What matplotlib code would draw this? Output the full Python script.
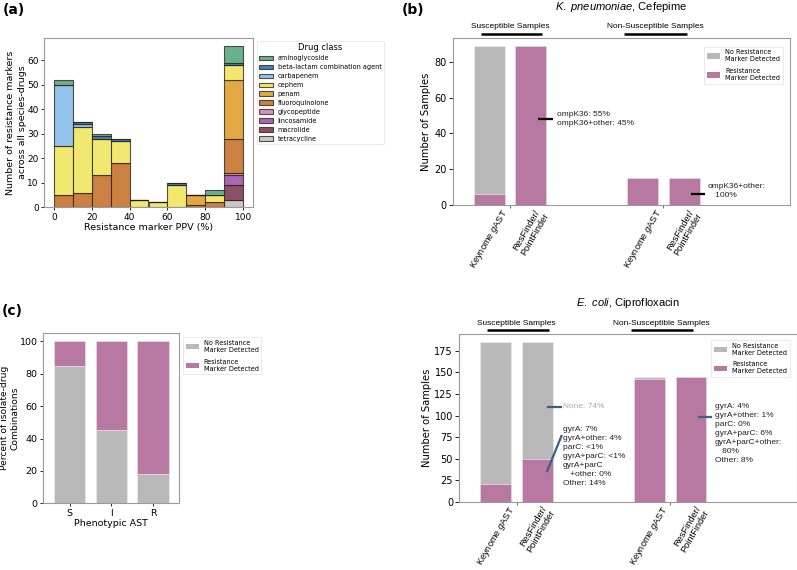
import matplotlib
matplotlib.use('Agg')
import matplotlib.pyplot as plt
import matplotlib.transforms as mtransforms
from matplotlib.patches import Patch

plt.rcParams['font.family'] = ['DejaVu Sans']
plt.rcParams['mathtext.fontset'] = 'custom'
plt.rcParams['mathtext.rm'] = 'Liberation Sans'
plt.rcParams['mathtext.it'] = 'Liberation Sans:italic'

ARIAL = 'Liberation Sans'

# ---------------- data ----------------
# panel (a): resistance markers per PPV bin (stacked by drug class)
ppv_bin_edges = [0, 10, 20, 30, 40, 50, 60, 70, 80, 90, 100]
ppv_bin_centers = [5, 15, 25, 35, 45, 55, 65, 75, 85, 95]
tetracycline    = [0, 0, 0, 0, 0, 0, 0, 0, 0, 3]
macrolide       = [0, 0, 0, 0, 0, 0, 0, 0, 0, 6]
lincosamide     = [0, 0, 0, 0, 0, 0, 0, 0, 0, 4]
glycopeptide    = [0, 0, 0, 0, 0, 0, 0, 0, 0, 1]
fluoroquinolone = [5, 6, 13, 18, 0, 0, 0, 1, 2, 14]
penam           = [0, 0, 0, 0, 0, 0, 0, 4, 0, 24]
cephem          = [20, 27, 15, 9, 3, 2, 9, 0, 3, 6]
carbapenem      = [25, 1, 0, 0, 0, 0, 0, 0, 0, 0]
beta_lactam     = [0, 1, 1, 1, 0, 0, 1, 0, 0, 1]
aminoglycoside  = [2, 0, 1, 0, 0, 0, 0, 0, 2, 7]
drug_classes = ['tetracycline', 'macrolide', 'lincosamide', 'glycopeptide',
                'fluoroquinolone', 'penam', 'cephem', 'carbapenem',
                'beta-lactam combination agent', 'aminoglycoside']
class_colors = ['#c9c9c9', '#8c5066', '#a866b4', '#d590c2', '#cc8142',
                '#e1a843', '#f1e872', '#93c3ea', '#4a80bf', '#67b18d']

# panels (b) and (d)
methods = ['Keynome $\\it{g}$AST', 'ResFinder/\nPointFinder']
groups = ['Susceptible Samples', 'Non-Susceptible Samples']
kp_total    = [89, 89, 15, 15]
kp_detected = [6, 89, 15, 15]
ec_total    = [185, 185, 145, 145]
ec_detected = [20, 49, 142, 145]

# panel (c)
phenotypes = ['S', 'I', 'R']
pct_no_marker = [85, 45, 18]
pct_marker    = [15, 55, 82]

GRAY = '#b9b9b9'
PINK = '#b778a1'
LINECOL = '#3b6189'
SPINE = '#9a9a9a'

W, H = 797, 570
fig = plt.figure(figsize=(W / 100, H / 100), dpi=100)


def axes_px(l, t, r, b):
    return fig.add_axes([l / W, 1 - b / H, (r - l) / W, (b - t) / H])


def style_spines(ax):
    for s in ax.spines.values():
        s.set_color(SPINE)
        s.set_linewidth(0.8)


# ---------------- panel (a) ----------------
axa = axes_px(44.3, 37.7, 252.7, 207.3)
series = [tetracycline, macrolide, lincosamide, glycopeptide, fluoroquinolone,
          penam, cephem, carbapenem, beta_lactam, aminoglycoside]
axa.hist([ppv_bin_centers] * len(series), bins=ppv_bin_edges, weights=series,
         stacked=True, color=class_colors, label=drug_classes,
         edgecolor=(0.15, 0.1, 0.05, 0.75), linewidth=0.8)
axa.set_xlim(-5, 105)
axa.set_ylim(0, 69.3)
axa.set_xticks([0, 20, 40, 60, 80, 100])
axa.set_yticks([0, 10, 20, 30, 40, 50, 60])
axa.tick_params(labelsize=6.5, length=2.5, width=0.6, pad=1.5)
axa.set_xlabel('Resistance marker PPV (%)', fontsize=6.8, labelpad=1)
axa.set_ylabel('Number of resistance markers\nacross all species-drugs', fontsize=6.8,
               labelpad=0.5, linespacing=1.3)
style_spines(axa)
h, l = axa.get_legend_handles_labels()
leg = axa.legend(h[::-1], l[::-1], title='Drug class', loc='upper left',
                 bbox_to_anchor=(1.02, 0.982), borderaxespad=0, fontsize=4.7,
                 title_fontsize=6, frameon=True, labelspacing=0.45,
                 handlelength=2.0, handleheight=0.7, borderpad=0.4)
leg.get_frame().set_edgecolor('#e0e0e0')
leg.get_frame().set_linewidth(0.6)

legend_handles = [Patch(facecolor=GRAY, label='No Resistance\nMarker Detected'),
                  Patch(facecolor=PINK, label='Resistance\nMarker Detected')]


def method_panel(ax, total, detected, title, annots):
    xs = [-0.135, 0.135, 0.865, 1.135]
    group_x = [0, 1]
    ax.bar(xs, total, width=0.2, color=GRAY, edgecolor='#ececec', linewidth=0.5)
    ax.bar(xs, detected, width=0.2, color=PINK, edgecolor='#ecdde6', linewidth=0.5)
    ax.set_xlim(-0.373, 1.824)
    ax.set_ylim(0, max(total) * 1.05)
    ax.set_xticks(group_x)
    ax.set_xticklabels(['', ''])
    ax.set_xticks(xs, minor=True)
    ax.set_xticklabels(methods * 2, minor=True, rotation=60, ha='center',
                       fontsize=6.7, family=ARIAL, linespacing=1.0)
    ax.tick_params(axis='x', which='major', length=2.5, width=0.6, color='#555555')
    ax.tick_params(axis='x', which='minor', length=0, pad=1.5)
    ax.tick_params(axis='y', labelsize=7, length=3, width=0.6, pad=1.5)
    ax.set_ylabel('Number of Samples', fontsize=7.2, labelpad=2)
    style_spines(ax)
    tr = mtransforms.blended_transform_factory(ax.transData, ax.transAxes)
    ax.text(0.5, 1.185, title, transform=ax.transAxes, ha='center', va='center',
            fontsize=8, family=ARIAL)
    for gx, lx0, lx1, label in [(0.0, -0.19, 0.21, groups[0]),
                                (0.945, 0.745, 1.15, groups[1])]:
        ax.text(gx, 1.065, label, transform=tr, ha='center', va='center',
                fontsize=6, family=ARIAL)
        ax.plot([lx0, lx1], [1.024, 1.024], transform=tr, color='black', lw=1.8,
                clip_on=False, solid_capstyle='butt')
    for (x0, y0, x1, y1, color, tx, ty, txt, tcol) in annots:
        ax.plot([x0, x1], [y0, y1], color=color, lw=1.6, solid_capstyle='butt',
                clip_on=False)
        if txt:
            ax.text(tx, ty, txt, ha='left', va='center', fontsize=6, family=ARIAL,
                    color=tcol, linespacing=1.4)


# ---------------- panel (b) ----------------
axb = axes_px(452.7, 37.7, 790, 205)
method_panel(axb, kp_total, kp_detected, '$\\it{K.\\ pneumoniae}$, Cefepime', [
    (0.182, 47.8, 0.28, 47.8, 'black', 0.306, 47.8,
     'ompK36: 55%\nompK36+other: 45%', '#222222'),
    (1.179, 6.1, 1.27, 6.1, 'black', 1.29, 7.6,
     'ompK36+other:\n   100%', '#222222'),
])
lb = axb.legend(handles=legend_handles, loc='upper right', bbox_to_anchor=(0.978, 0.946),
                borderaxespad=0, fontsize=4.7, labelspacing=0.9, handlelength=2.0,
                handleheight=0.9)
lb.get_frame().set_edgecolor('#e0e0e0')
lb.get_frame().set_linewidth(0.6)

# ---------------- panel (d) ----------------
axd = axes_px(459.3, 334.3, 796.7, 501.7)
method_panel(axd, ec_total, ec_detected, '$\\it{E.\\ coli}$, Ciprofloxacin', [
    (0.197, 110, 0.295, 110, LINECOL, 0.301, 110, 'None: 74%', '#a9a9a9'),
    (0.197, 34.5, 0.295, 77.5, LINECOL, 0.301, 52.2,
     'gyrA: 7%\ngyrA+other: 4%\nparC: <1%\ngyrA+parC: <1%\ngyrA+parC\n   +other: 0%\nOther: 14%',
     '#222222'),
    (1.183, 98.3, 1.274, 98.3, LINECOL, 1.291, 79.7,
     'gyrA: 4%\ngyrA+other: 1%\nparC: 0%\ngyrA+parC: 6%\ngyrA+parC+other:\n   80%\nOther: 8%',
     '#222222'),
])
axd.set_yticks([0, 25, 50, 75, 100, 125, 150, 175])
ld = axd.legend(handles=legend_handles, loc='upper right', bbox_to_anchor=(0.98, 0.966),
                borderaxespad=0, fontsize=4.7, labelspacing=0.9, handlelength=2.0,
                handleheight=0.9)
ld.get_frame().set_edgecolor('#e0e0e0')
ld.get_frame().set_linewidth(0.6)

# ---------------- panel (c) ----------------
axc = axes_px(43.3, 333.3, 179.3, 503.3)
xc = list(range(len(phenotypes)))
axc.bar(xc, pct_no_marker, width=0.75, color=GRAY, edgecolor='#ececec', linewidth=0.5)
axc.bar(xc, pct_marker, width=0.75, bottom=pct_no_marker, color=PINK,
        edgecolor='#ecdde6', linewidth=0.5)
axc.set_xlim(-0.635, 2.63)
axc.set_ylim(0, 105)
axc.set_xticks(xc)
axc.set_xticklabels(phenotypes)
axc.set_yticks([0, 20, 40, 60, 80, 100])
axc.tick_params(labelsize=6.8, length=2.5, width=0.6, pad=1.5)
axc.set_xlabel('Phenotypic AST', fontsize=6.8, labelpad=1)
axc.set_ylabel('Percent of isolate-drug\nCombinations', fontsize=6.6, labelpad=0.5,
               linespacing=1.15)
style_spines(axc)
lc = axc.legend(handles=legend_handles, loc='upper left', bbox_to_anchor=(1.027, 0.978),
                borderaxespad=0, fontsize=4.7, labelspacing=0.9, handlelength=2.0,
                handleheight=0.9)
lc.get_frame().set_edgecolor('#e0e0e0')
lc.get_frame().set_linewidth(0.6)

# ---------------- panel labels ----------------
for x, y, s in [(2.5, 2.5, '(a)'), (401.5, 2.5, '(b)'), (1.5, 304, '(c)')]:
    fig.text(x / W, 1 - y / H, s, ha='left', va='top', fontsize=10, fontweight='bold')

fig.savefig('out.png', dpi=100)
